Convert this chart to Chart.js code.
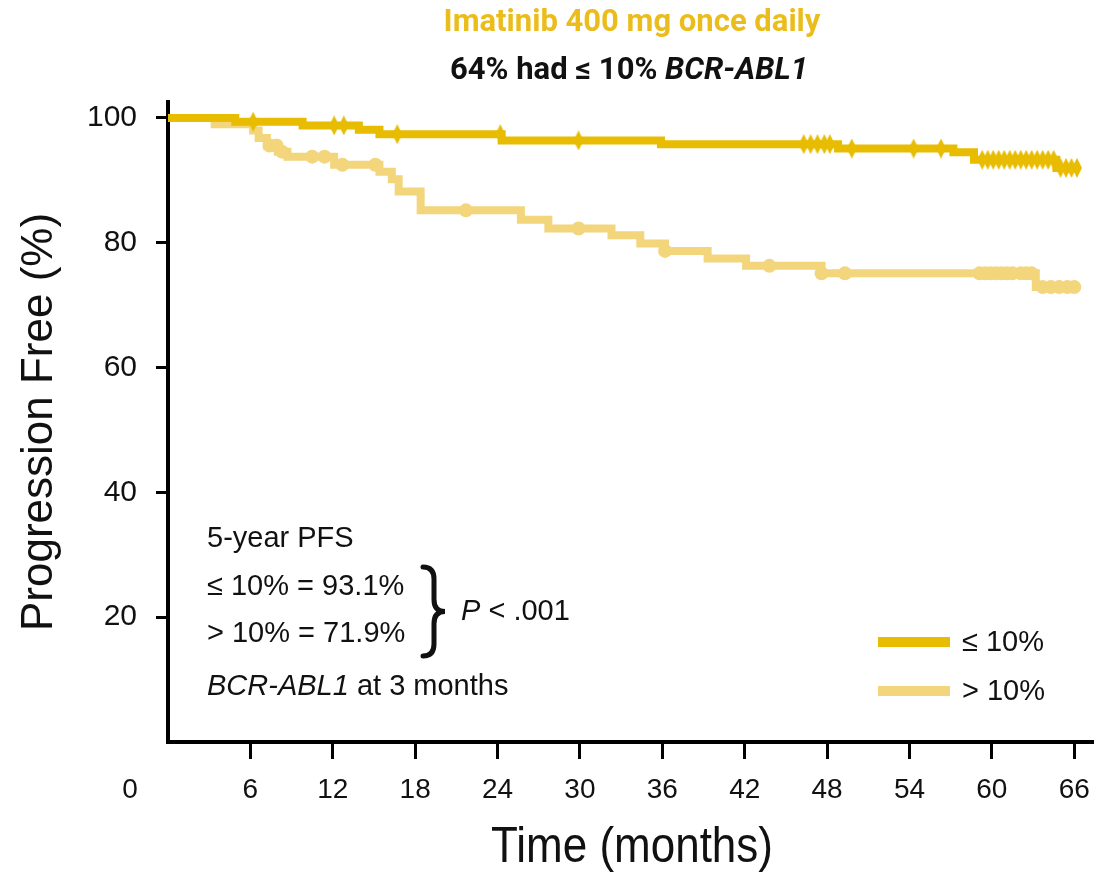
<!DOCTYPE html>
<html>
<head>
<meta charset="utf-8">
<script src="https://cdn.jsdelivr.net/npm/chart.js@4.4.1/dist/chart.umd.min.js"></script>
<style>
html, body { margin: 0; padding: 0; background: #fff; }
</style>
</head>
<body>
<canvas id="kmChart" width="1104" height="872"></canvas>
<script>
// Kaplan-Meier steps (months, % progression free)
const lowTimes = [0, 4.9, 9.8, 13.9, 15.4, 24.3, 35.9, 48.8, 57.2, 58.7, 64.7, 66.3];
const lowSurv  = [100, 99.4, 98.8, 98.1, 97.4, 96.4, 95.8, 95.1, 94.5, 93.3, 92.0, 92.0];
const lowCensor = [6.2, 12.1, 12.8, 16.7, 24.2, 29.9, 46.3, 46.8, 47.3, 47.8, 48.2, 49.8, 54.3, 56.3,
  59.3, 59.7, 60.1, 60.5, 60.9, 61.3, 61.7, 62.1, 62.5, 62.9, 63.3, 63.7, 64.1, 64.5, 65.0, 65.4, 65.8, 66.2];

const highTimes = [0, 3.4, 6.2, 6.6, 7.2, 8.0, 8.7, 12.1, 15.4, 16.3, 16.8, 18.4, 25.7, 27.7, 32.3, 34.4, 36.2, 39.3, 42.1, 47.6, 63.2, 66.3];
const highSurv  = [100, 99.0, 98.0, 96.8, 95.6, 94.6, 93.8, 92.5, 91.4, 90.2, 88.2, 85.2, 83.7, 82.3, 81.2, 79.9, 78.7, 77.5, 76.3, 75.1, 72.9, 72.9];
const highCensor = [7.4, 7.9, 8.3, 10.5, 11.4, 12.7, 15.1, 21.7, 29.9, 36.2, 43.8, 47.6, 49.3,
  59.1, 59.5, 59.9, 60.3, 60.7, 61.1, 61.5, 62.1, 62.5, 62.9, 63.7, 64.3, 64.9, 65.5, 66.0];

const xTickValues = [6, 12, 18, 24, 30, 36, 42, 48, 54, 60, 66];
const yTickValues = [20, 40, 60, 80, 100];
const seriesLabels = ['\u2264 10%', '> 10%'];

const darkGold = '#E8BC00';
const lightGold = '#F3D57C';
const sans = '"Liberation Sans", Arial, sans-serif';

function survAt(times, surv, t) {
  let v = surv[0];
  for (let i = 0; i < times.length; i++) {
    if (times[i] <= t) v = surv[i];
  }
  return v;
}
const toPoints = (times, surv) => times.map((t, i) => ({ x: t, y: surv[i] }));
const censorPoints = (cens, times, surv) => cens.map(t => ({ x: t, y: survAt(times, surv, t) }));

// tall diamond used as censor mark for the low group
const diamond = document.createElement('canvas');
diamond.width = 10;
diamond.height = 20;
const dctx = diamond.getContext('2d');
dctx.fillStyle = darkGold;
dctx.beginPath();
dctx.moveTo(5, 0); dctx.lineTo(10, 10); dctx.lineTo(5, 20); dctx.lineTo(0, 10);
dctx.closePath();
dctx.fill();

const textPlugin = {
  id: 'kmText',
  afterDraw(chart) {
    const ctx = chart.ctx;
    const xs = chart.scales.x;
    ctx.save();

    // titles
    ctx.textAlign = 'center';
    ctx.textBaseline = 'alphabetic';
    ctx.fillStyle = '#EBBD1C';
    ctx.font = 'bold 31px Roboto, ' + sans;
    ctx.fillText('Imatinib 400 mg once daily', 632, 31);

    ctx.fillStyle = '#111';
    const partA = '64% had \u2264 10% ';
    const partB = 'BCR-ABL1';
    ctx.font = 'bold 31px Roboto, ' + sans;
    const wA = ctx.measureText(partA).width;
    ctx.font = 'italic bold 31px Roboto, ' + sans;
    const wB = ctx.measureText(partB).width;
    const sx = 629 - (wA + wB) / 2;
    ctx.textAlign = 'left';
    ctx.font = 'bold 31px Roboto, ' + sans;
    ctx.fillText(partA, sx, 79);
    ctx.font = 'italic bold 31px Roboto, ' + sans;
    ctx.fillText(partB, sx + wA, 79);

    // axis titles (condensed)
    ctx.fillStyle = '#111';
    ctx.textAlign = 'center';
    ctx.textBaseline = 'middle';
    ctx.save();
    ctx.translate(632, 848);
    ctx.scale(0.88, 1);
    ctx.font = '50px ' + sans;
    ctx.fillText('Time (months)', 0, 0);
    ctx.restore();
    ctx.save();
    ctx.translate(40, 422);
    ctx.rotate(-Math.PI / 2);
    ctx.font = '44px ' + sans;
    ctx.fillText('Progression Free (%)', 0, 0);
    ctx.restore();

    // lone 0 label left of the axis corner
    ctx.font = '28px ' + sans;
    ctx.fillText('0', xs.getPixelForValue(0) - 38, 790);

    // 5-year PFS annotation
    ctx.textAlign = 'left';
    ctx.textBaseline = 'alphabetic';
    ctx.font = '29px ' + sans;
    ctx.fillText('5-year PFS', 207, 547);
    ctx.fillText('\u2264 10% = 93.1%', 207, 595);
    ctx.fillText('> 10% = 71.9%', 207, 642);
    ctx.font = 'italic 29px ' + sans;
    ctx.fillText('BCR-ABL1', 207, 695);
    const wb = ctx.measureText('BCR-ABL1 ').width;
    ctx.font = '29px ' + sans;
    ctx.fillText('at 3 months', 207 + wb, 695);
    ctx.font = 'italic 29px ' + sans;
    ctx.fillText('P', 461, 620);
    const wp = ctx.measureText('P ').width;
    ctx.font = '29px ' + sans;
    ctx.fillText('< .001', 461 + wp, 620);

    // curly brace
    ctx.strokeStyle = '#111';
    ctx.lineWidth = 5;
    ctx.lineCap = 'round';
    const bx = 423, by1 = 567, by2 = 656, bw = 22;
    const bm = (by1 + by2) / 2;
    ctx.beginPath();
    ctx.moveTo(bx, by1);
    ctx.quadraticCurveTo(bx + bw * 0.5, by1, bx + bw * 0.5, by1 + 12);
    ctx.lineTo(bx + bw * 0.5, bm - 12);
    ctx.quadraticCurveTo(bx + bw * 0.5, bm, bx + bw, bm);
    ctx.quadraticCurveTo(bx + bw * 0.5, bm, bx + bw * 0.5, bm + 12);
    ctx.lineTo(bx + bw * 0.5, by2 - 12);
    ctx.quadraticCurveTo(bx + bw * 0.5, by2, bx, by2);
    ctx.stroke();

    // legend
    const legendColors = [darkGold, lightGold];
    const legendY = [642, 691];
    ctx.lineCap = 'butt';
    ctx.lineWidth = 10;
    ctx.font = '29px ' + sans;
    ctx.textBaseline = 'middle';
    ctx.fillStyle = '#111';
    seriesLabels.forEach((lbl, i) => {
      ctx.strokeStyle = legendColors[i];
      ctx.beginPath();
      ctx.moveTo(878, legendY[i]);
      ctx.lineTo(950, legendY[i]);
      ctx.stroke();
      ctx.fillText(lbl, 962, legendY[i] + 1);
    });

    ctx.restore();
  }
};

new Chart(document.getElementById('kmChart'), {
  type: 'line',
  data: {
    datasets: [
      {
        label: seriesLabels[0],
        data: toPoints(lowTimes, lowSurv),
        borderColor: darkGold,
        borderWidth: 8,
        stepped: true,
        pointRadius: 0,
        fill: false,
        order: 1
      },
      {
        type: 'scatter',
        label: seriesLabels[0] + ' censored',
        data: censorPoints(lowCensor, lowTimes, lowSurv),
        pointStyle: diamond,
        pointRadius: 8,
        showLine: false,
        order: 0
      },
      {
        label: seriesLabels[1],
        data: toPoints(highTimes, highSurv),
        borderColor: lightGold,
        borderWidth: 8,
        stepped: true,
        pointRadius: 0,
        fill: false,
        order: 3
      },
      {
        type: 'scatter',
        label: seriesLabels[1] + ' censored',
        data: censorPoints(highCensor, highTimes, highSurv),
        pointStyle: 'circle',
        pointRadius: 7,
        pointBackgroundColor: lightGold,
        pointBorderWidth: 0,
        showLine: false,
        order: 2
      }
    ]
  },
  options: {
    responsive: false,
    animation: false,
    devicePixelRatio: 1,
    layout: { padding: { top: 102, right: 7, bottom: 0, left: 0 } },
    plugins: {
      legend: { display: false },
      tooltip: { enabled: false }
    },
    scales: {
      x: {
        type: 'linear',
        min: 0,
        max: 67.4,
        afterBuildTicks: s => { s.ticks = xTickValues.map(v => ({ value: v })); },
        afterFit: s => { s.height = 130; },
        grid: { drawOnChartArea: false, drawTicks: true, tickLength: 17, tickWidth: 3, tickColor: '#000' },
        border: { display: true, color: '#000', width: 4 },
        ticks: { font: { family: sans, size: 28 }, color: '#111', padding: 14, maxRotation: 0, autoSkip: false }
      },
      y: {
        min: 0,
        max: 102.56,
        afterBuildTicks: s => { s.ticks = yTickValues.map(v => ({ value: v })); },
        afterFit: s => { s.width = 168; },
        grid: { drawOnChartArea: false, drawTicks: true, tickLength: 12, tickWidth: 3, tickColor: '#000' },
        border: { display: true, color: '#000', width: 4 },
        ticks: { font: { family: sans, size: 30 }, color: '#111', padding: 19, autoSkip: false }
      }
    }
  },
  plugins: [textPlugin]
});
</script>
</body>
</html>
